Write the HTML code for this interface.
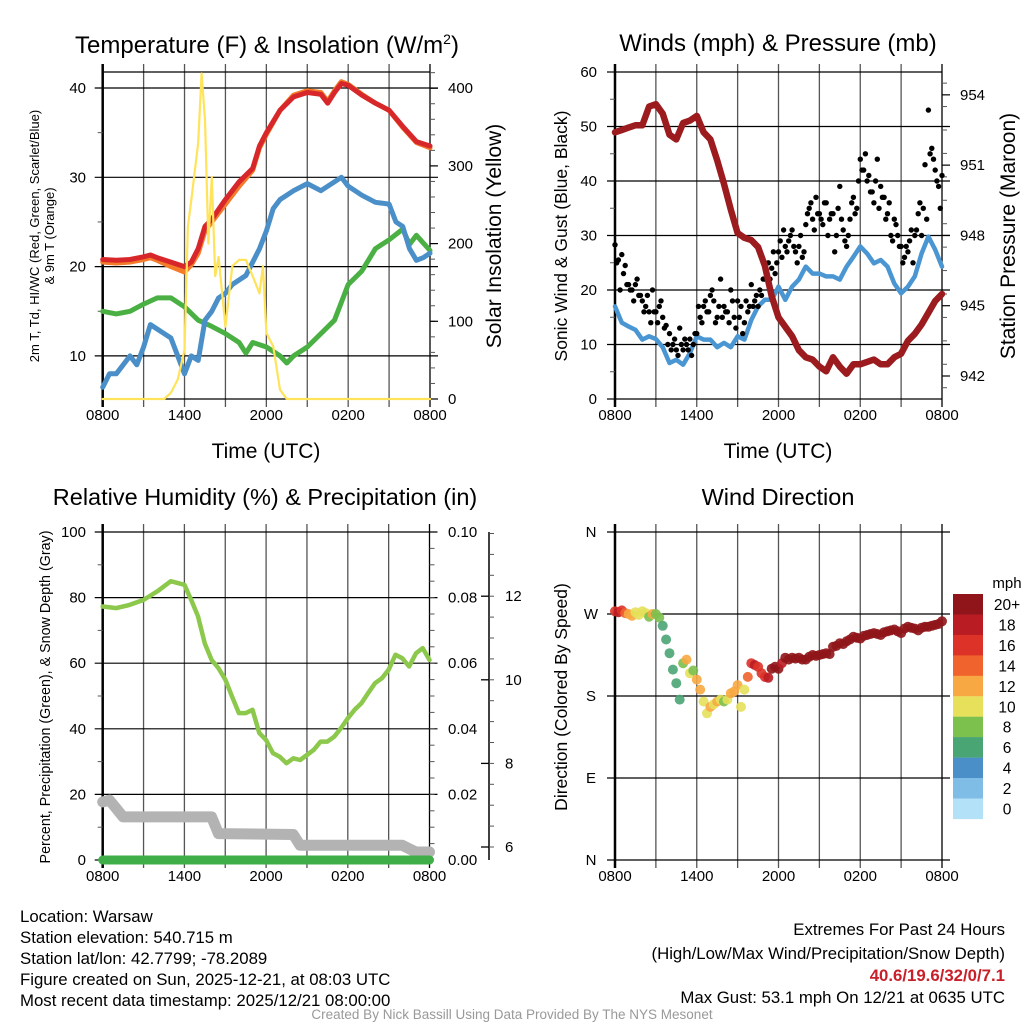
<!DOCTYPE html>
<html><head><meta charset="utf-8"><title>Mesonet Station Meteogram</title>
<style>
html,body{margin:0;padding:0;background:#fff;}
svg{display:block;font-family:"Liberation Sans",Arial,sans-serif;}
</style></head>
<body>
<svg id="chart" width="1024" height="1024" viewBox="0 0 1024 1024" xmlns="http://www.w3.org/2000/svg"></svg>
<script>
// ---------- data (hours since 0800 UTC) ----------
const xTickLabels = ["0800","1400","2000","0200","0800"];
const tempHours = [0,1,2,3,3.5,4,5,6,6.5,7,7.5,8,9,10,11,11.5,12,13,14,15,16,16.5,17,17.5,18,19,20,21,22,23,24];
const temp2m   = [20.8,20.7,20.8,21.1,21.3,21,20.5,20,20.5,22,24.5,25.3,27.5,29.5,31,33.5,35,37.5,39,39.5,39.3,38.3,39.5,40.5,40.3,39.2,38.3,37.5,35.7,34,33.5];
const temp9m   = [20.5,20.4,20.5,20.8,21,20.7,20,19.4,20.2,21.5,24,25,27,29,30.8,33.3,34.8,37.5,39.2,39.7,39.5,38.5,39.7,40.7,40.4,39.3,38.3,37.5,35.6,33.9,33.3];
const wcHours = [0,0.5,1,1.5,2,2.5,3,3.5,4,4.5,5,5.5,6,6.5,7,7.5,8,8.5,9,9.5,10,10.5,11,11.5,12,12.5,13,14,15,16,17,17.5,18,19,20,21,21.5,22,22.5,23,23.5,24];
const windChill = [6.5,8,8,9,10,9,11,13.5,13,12.5,12,10,8,10,9.5,14,15,16.5,17,18,18.5,19,20.5,22,24,26.5,27.5,28.5,29.3,28.5,29.5,30,29,28,27.2,27,25,24.5,22,20.7,21,21.5];
const dewHours = [0,1,2,3,4,5,6,7,8,9,10,10.5,11,12,13,13.5,14,15,16,17,18,19,20,21,22,22.5,23,24];
const dewpoint = [15,14.7,15,15.8,16.5,16.5,15.5,14,13.3,12.5,11.5,10.3,11.5,11,10,9.2,10,11,12.5,14,18,19.5,22,23,24.2,22.5,23.5,21.8];
const solarHours = [0,4.5,5,5.5,6,6.25,6.5,7,7.25,7.5,7.75,8,8.25,8.5,9,9.5,10,10.5,11,11.5,11.75,12,12.5,13,13.5,24];
const solarVals  = [0,0,8,25,63,222,256,330,419,359,200,286,158,183,93,171,179,179,158,136,171,85,68,12,0,0];
const presHours = [0,0.5,1,1.5,2,2.5,3,3.5,4,4.5,5,5.5,6,6.5,7,7.5,8,8.5,9,9.5,10,10.5,11,11.5,12,12.5,13,13.5,14,14.5,15,15.5,16,16.5,17,17.5,18,18.5,19,19.5,20,20.5,21,21.5,22,22.5,23,23.5,24];
const pressure = [952.4,952.5,952.6,952.7,952.7,953.5,953.6,953.2,952.3,952.1,952.8,952.9,953.1,952.4,952.1,951.2,950.2,949.1,948.1,947.9,947.8,947.5,946.7,945.4,944.5,944.1,943.7,943.1,942.8,942.7,942.4,942.2,942.8,942.4,942.1,942.5,942.5,942.6,942.7,942.5,942.5,942.8,942.95,943.5,943.8,944.2,944.7,945.2,945.5];
const windHours = [0,0.5,1,1.5,2,2.5,3,3.5,4,4.5,5,5.5,6,6.5,7,7.5,8,8.5,9,9.5,10,10.5,11,11.5,12,12.5,13,13.5,14,14.5,15,15.5,16,16.5,17,17.5,18,18.5,19,19.5,20,20.5,21,21.5,22,22.5,23,23.5,24];
const windSpeed = [17,14,13.3,12.7,10.9,11.5,11,9.5,6.6,7.2,6.3,8.4,11.5,10.9,10.9,9.5,10.3,9.5,11.5,10.9,14.5,17,18.2,18.2,20.6,18.2,20.6,21.9,24.3,23,23,22.5,22.5,21.9,24.3,26.1,28,26.7,24.9,25.5,24.3,21.2,19.4,20.6,22.5,26.7,29.8,27.4,24.3];
const gustA = [28.3,25.5,26.5,24.5,21,20,21,19,18,17,16,20,16,17,15,13.5,12,10,9,13,9,10,11,10,12,15,17,16,19,18,15,22,17,16,20,15,18,17,14,16,21,18,17,19,22,25,24,23,27,26,28,29,31,27,28,26,32,35,33,37,34,32,36,33,34,30,39,31,28,33,37,35,44,42,40,38,36,44,39,37,34,30,33,30,28,26,27,31,30,34,30,43,53,46,42,39,41];
const gustB = [25,20,23,21,20,18,22,19,16,19,14,16,14,18,13,10,9,11,8,10,11,9,8,12,17,14,18,16,20,14,17,15,16,14,18,13,15,12,18,17,17,19,20,22,23,22,27,25,29,31,27,30,28,25,30,27,34,36,31,34,33,36,30,34,27,35,33,29,30,36,34,40,42,45,41,38,40,35,37,33,36,29,32,28,25,28,29,25,31,36,35,33,45,44,40,35];
const rhHours = [0,1,2,3,4,5,6,6.5,7,7.5,8,8.5,9,9.5,10,10.5,11,11.5,12,12.5,13,13.5,14,14.5,15,15.5,16,16.5,17,17.5,18,18.5,19,19.5,20,20.5,21,21.5,22,22.5,23,23.5,24];
const relHum = [77.3,76.8,77.8,79.3,81.9,85,83.9,79.3,74.3,66,61,58.5,55,49.8,44.8,44.8,45.8,38.7,36.6,32.6,31.5,29.5,31,30.5,32,33.6,36.1,36.1,37.6,40.2,43.2,45.8,47.8,50.9,53.9,55.4,58,62.6,61.5,59,63,64.6,61];
const precipHours = [0,24];
const precip = [0,0];
const snowHours = [0,0.5,1,1.5,8,8.5,14,14.5,22,22.5,23,24];
const snowDepth = [7.08,7.12,6.92,6.72,6.72,6.32,6.3,6.04,6.04,5.96,5.88,5.88];
const dirDeg = [273,272,274,271,270,268,272,269,273,271,267,270,270,266,257,242,227,209,194,176,216,220,205,208,198,187,174,161,168,171,174,176,174,176,183,185,192,168,187,201,216,214,212,205,201,200,210,212,210,216,222,220,222,221,222,220,220,223,225,224,225,226,227,226,234,235,238,237,240,242,245,244,243,246,247,248,249,248,247,250,251,252,253,251,249,254,256,255,254,252,255,256,256,257,258,259,262];
const dirSpeed = [17,18,16,14,12,13,10,11,11,10,9,12,9,8,6,6,6,6,6,7,8,12,10,9,12,12,10,11,12,10,12,11,9,10,12,12,12,10,10,14,16,18,17,17,16,19,20,20,20,19,20,21,21,20,22,21,21,21,21,21,21,21,21,21,21,21,21,21,21,21,21,21,21,21,21,21,21,21,21,21,21,21,21,21,21,21,21,21,21,21,21,21,21,21,21,21,21];
const cbLabels = ["20+","18","16","14","12","10","8","6","4","2","0"];
const cbColors = ["#8f151a","#ba1c24","#dc3228","#f0632c","#f7a843","#e6e05a","#7cc04e","#4aa574","#4a8fc8","#7fbce6","#b3e1f7"];

// ---------- helpers ----------
const NS="http://www.w3.org/2000/svg";
const svg=document.getElementById('chart');
function mk(tag,attrs,name,parent){
  const el=document.createElementNS(NS,tag);
  for(const k in attrs) el.setAttribute(k,attrs[k]);
  
  
  (parent||svg).appendChild(el);
  return el;
}
function txt(x,y,s,name,opt){
  opt=opt||{};
  const a={x:x,y:y,'font-size':opt.size||15,fill:opt.fill||'#000','text-anchor':opt.anchor||'middle'};
  if(opt.weight) a['font-weight']=opt.weight;
  if(opt.rot!==undefined) a.transform='rotate('+opt.rot+' '+x+' '+y+')';
  const t=mk('text',a,name);
  t.textContent=s;
  return t;
}
function line(x1,y1,x2,y2,name,stroke,w){
  return mk('line',{x1:x1,y1:y1,x2:x2,y2:y2,stroke:stroke||'#000','stroke-width':w||1},name);
}
function pathOf(hs,vs,X,Y){
  let d='';
  for(let i=0;i<hs.length;i++){d+=(i?'L':'M')+X(hs[i]).toFixed(1)+' '+Y(vs[i]).toFixed(1);}
  return d;
}
function series(hs,vs,X,Y,color,w,name){
  return mk('path',{d:pathOf(hs,vs,X,Y),fill:'none',stroke:color,'stroke-width':w,'stroke-linejoin':'round','stroke-linecap':'round'},name);
}
function frame(x0,x1,y0,y1,prefix,hGrid,Y){
  const X=h=>x0+(x1-x0)*h/24;
  for(let h=0;h<=24;h+=3){
    line(X(h),y0-8,X(h),y1+8,prefix+'-vgrid',(h===0||h===24)?'#000':'#555',(h===0)?2.5:1.3);
  }
  hGrid.forEach(v=>line(x0-8,Y(v),x1+8,Y(v),prefix+'-hgrid','#000',1.2));
  for(let i=0;i<xTickLabels.length;i++){
    txt(X(i*6),y1+21,xTickLabels[i],prefix+'-x-tick-label',{size:15});
  }
  return X;
}

// ---------- Panel 1: temperature ----------
(function(){
  const x0=102.7,x1=430,y0=72,y1=399;
  const YT=v=>88+(40-v)*8.93;
  const YS=s=>399-s*0.777;
  const X=frame(x0,x1,y0,y1,'temp',[10,20,30,40],YT);
  line(x0,y0,x1,y0,'temp-top-border','#000',1.3);
  line(x0,y1,x1,y1,'temp-bottom-border','#000',1.3);
  [15,25,35].forEach(v=>line(x0-5,YT(v),x0,YT(v),'temp-minor-tick','#555',1));
  for(let s=20;s<=420;s+=20) line(x1,YS(s),x1+5,YS(s),'solar-minor-tick','#555',1);
  [0,100,200,300,400].forEach(s=>line(x1,YS(s),x1+8,YS(s),'solar-major-tick','#000',1.2));
  [10,20,30,40].forEach(v=>txt(86,YT(v)+5,String(v),'temp-y-tick-label',{anchor:'end'}));
  [0,100,200,300,400].forEach(s=>txt(448,YS(s)+5,String(s),'solar-y-tick-label',{anchor:'start'}));
  series(dewHours,dewpoint,X,YT,'#4bb044',5,'dewpoint-line');
  series(wcHours,windChill,X,YT,'#4a8fc8',5,'windchill-line');
  series(tempHours,temp9m,X,YT,'#f37b2a',5,'temp-9m-line');
  series(tempHours,temp2m,X,YT,'#d8272a',5,'temp-2m-line');
  series(solarHours,solarVals,X,YS,'#ffe35a',2.2,'solar-line');
  const t=mk('text',{x:267,y:53,'font-size':24,'text-anchor':'middle',fill:'#000'},'temp-title');
  t.appendChild(document.createTextNode('Temperature (F) & Insolation (W/m'));
  const sup=document.createElementNS(NS,'tspan');
  sup.setAttribute('dy','-9'); sup.setAttribute('font-size','14'); sup.textContent='2';
  t.appendChild(sup);
  const cl=document.createElementNS(NS,'tspan');
  cl.setAttribute('dy','9'); cl.textContent=')';
  t.appendChild(cl);
  txt(266,458,'Time (UTC)','temp-x-title',{size:21});
  txt(39,236,'2m T, Td, HI/WC (Red, Green, Scarlet/Blue)','temp-y-title',{size:13,rot:-90});
  txt(54,236,'& 9m T (Orange)','temp-y-title-2',{size:13,rot:-90});
  txt(501,236,'Solar Insolation (Yellow)','solar-y-title',{size:21,rot:-90});
})();

// ---------- Panel 2: winds & pressure ----------
(function(){
  const x0=615,x1=942,y0=72,y1=399;
  const YW=v=>399-v*5.45;
  const YP=p=>376-(p-942)*23.43;
  const X=frame(x0,x1,y0,y1,'wind',[10,20,30,40,50],YW);
  line(x0,y0,x1,y0,'wind-top-border','#000',1.3);
  line(x0,y1,x1,y1,'wind-bottom-border','#000',1.3);
  [5,15,25,35,45,55].forEach(v=>line(x0-5,YW(v),x0,YW(v),'wind-minor-tick','#555',1));
  for(let p=941.5;p<=955;p+=1) line(x1,YP(p),x1+5,YP(p),'pressure-minor-tick','#555',1);
  [942,945,948,951,954].forEach(p=>line(x1,YP(p),x1+8,YP(p),'pressure-major-tick','#000',1.2));
  line(x0-8,YW(60),x0,YW(60),'wind-top-tick','#000',1.2);
  line(x0-8,YW(0),x0,YW(0),'wind-bottom-tick','#000',1.2);
  [0,10,20,30,40,50,60].forEach(v=>txt(597,YW(v)+5,String(v),'wind-y-tick-label',{anchor:'end'}));
  [942,945,948,951,954].forEach(p=>txt(960,YP(p)+5,String(p),'pressure-y-tick-label',{anchor:'start'}));
  series(windHours,windSpeed,X,YW,'#4a96d2',4.5,'wind-speed-line');
  for(let i=0;i<gustA.length;i++){
    mk('circle',{cx:X(i*0.25).toFixed(1),cy:YW(gustA[i]).toFixed(1),r:2.7,fill:'#000'},'gust-point-a');
  }
  for(let i=0;i<gustB.length;i++){
    mk('circle',{cx:X(0.125+i*0.25).toFixed(1),cy:YW(gustB[i]).toFixed(1),r:2.7,fill:'#000'},'gust-point-b');
  }
  series(presHours,pressure,X,YP,'#9b1b1e',6.5,'pressure-line');
  txt(778,51,'Winds (mph) & Pressure (mb)','wind-title',{size:24});
  txt(778,458,'Time (UTC)','wind-x-title',{size:21});
  txt(567,236,'Sonic Wind & Gust (Blue, Black)','wind-y-title',{size:17.5,rot:-90});
  txt(1015,236,'Station Pressure (Maroon)','pressure-y-title',{size:21,rot:-90});
})();

// ---------- Panel 3: RH & precip ----------
(function(){
  const x0=102.7,x1=429.5,y0=532,y1=860;
  const YR=v=>860-v*3.28;
  const YPr=v=>860-v*3280;
  const YSn=s=>847-(s-6)*41.8;
  const X=frame(x0,x1,y0,y1,'rh',[20,40,60,80,100],YR);
  line(x0,y1,x1,y1,'rh-bottom-border','#000',1.3);
  line(x0-8,YR(0),x0,YR(0),'rh-zero-tick','#000',1.2);
  [10,30,50,70,90].forEach(v=>line(x0-5,YR(v),x0,YR(v),'rh-minor-tick','#555',1));
  for(let v=0.005;v<0.1;v+=0.005) line(x1,YPr(v),x1+5,YPr(v),'precip-minor-tick','#555',1);
  line(489,532,489,860,'snow-axis-line','#000',1.5);
  for(let s=6;s<=13.5;s+=0.5) line(489,YSn(s),494,YSn(s),'snow-minor-tick','#555',1);
  [6,8,10,12].forEach(s=>line(481,YSn(s),489,YSn(s),'snow-major-tick','#000',1.3));
  [0,20,40,60,80,100].forEach(v=>txt(86,YR(v)+5,String(v),'rh-y-tick-label',{anchor:'end'}));
  [0,0.02,0.04,0.06,0.08,0.1].forEach(v=>txt(448,YPr(v)+5,v.toFixed(2),'precip-y-tick-label',{anchor:'start'}));
  [6,8,10,12].forEach(s=>txt(505,YSn(s)+5,String(s),'snow-y-tick-label',{anchor:'start'}));
  series(snowHours,snowDepth,X,YSn,'#b3b3b3',11,'snow-depth-line');
  series(rhHours,relHum,X,YR,'#8cc84b',4.5,'rh-line');
  series(precipHours,precip,X,YPr,'#3fae49',9,'precip-line');
  txt(265,505,'Relative Humidity (%) & Precipitation (in)','rh-title',{size:23.5});
  txt(50,697,'Percent, Precipitation (Green), & Snow Depth (Gray)','rh-y-title',{size:14.3,rot:-90});
})();

// ---------- Panel 4: wind direction ----------
(function(){
  const x0=615,x1=942,y0=532,y1=860;
  const YD=d=>860-d*0.9111;
  const X=frame(x0,x1,y0,y1,'dir',[0,90,180,270,360],YD);
  const labs=['N','E','S','W','N'];
  [0,90,180,270,360].forEach((d,i)=>txt(591,YD(d)+5,labs[i],'dir-y-tick-label',{size:15}));
  function col(s){const k=Math.min(10,Math.floor(s/2));return cbColors[10-k];}
  for(let i=0;i<dirDeg.length;i++){
    mk('circle',{cx:X(i*0.25).toFixed(1),cy:YD(dirDeg[i]).toFixed(1),r:5,fill:col(dirSpeed[i]),'fill-opacity':0.9},'dir-point');
  }
  txt(778,505,'Wind Direction','dir-title',{size:23.5});
  txt(567,697,'Direction (Colored By Speed)','dir-y-title',{size:17.5,rot:-90});
  txt(1007,588,'mph','colorbar-title',{size:15});
  for(let i=0;i<cbLabels.length;i++){
    mk('rect',{x:953,y:(594+i*20.45).toFixed(1),width:30,height:20.6,fill:cbColors[i]},'colorbar-box');
    txt(1007,594+i*20.45+16,cbLabels[i],'colorbar-label',{size:15.5});
  }
})();

// ---------- footer ----------
const info=["Location: Warsaw","Station elevation: 540.715 m","Station lat/lon: 42.7799; -78.2089","Figure created on Sun, 2025-12-21, at 08:03 UTC","Most recent data timestamp: 2025/12/21 08:00:00"];
info.forEach((s,i)=>txt(20,922+i*21,s,'station-info-line',{size:16.8,anchor:'start'}));
txt(1005,935,'Extremes For Past 24 Hours','extremes-title',{size:16.8,anchor:'end'});
txt(1005,959,'(High/Low/Max Wind/Precipitation/Snow Depth)','extremes-subtitle',{size:16.8,anchor:'end'});
txt(1005,981,'40.6/19.6/32/0/7.1','extremes-values',{size:16.8,anchor:'end',fill:'#c8202a',weight:'bold'});
txt(1005,1003,'Max Gust: 53.1 mph On 12/21 at 0635 UTC','max-gust',{size:16.8,anchor:'end'});
txt(512,1019,'Created By Nick Bassill Using Data Provided By The NYS Mesonet','credit',{size:13.5,fill:'#999'});
</script>
</body></html>
